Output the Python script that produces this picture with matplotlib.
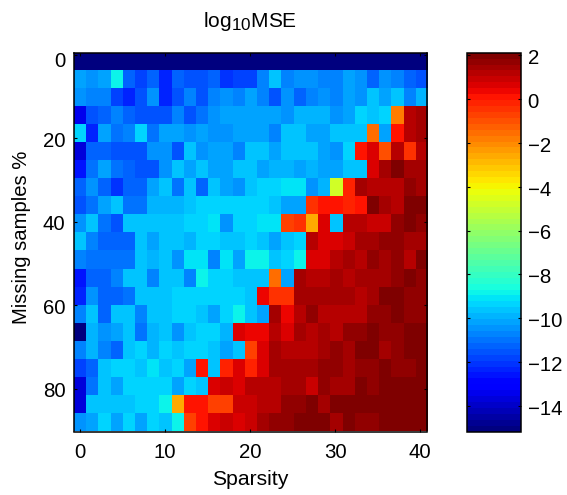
import numpy as np
import matplotlib
matplotlib.use('Agg')
import matplotlib.pyplot as plt
import matplotlib.transforms as mtrans
import matplotlib._mathtext as mt

plt.rcParams['font.family'] = ['Liberation Sans', 'DejaVu Sans']
plt.rcParams['mathtext.default'] = 'regular'
mt.SHRINK_FACTOR = 0.82  # bigger subscript, like the original

# log10 MSE, one row per missing samples level
r00 = [-15.1] * 29
r01 = [-10.15, -10.45, -10.15, -8.95, -11.15, -11.85, -11.15, -12.45, -11.15, -11.55, -11.55, -11.25, -12.15, -11.85, -11.85, -10.85, -9.75, -10.65, -10.35, -10.35, -10.65, -10.65, -10.05, -10.35, -11.15, -10.35, -10.65, -11.15, -11.55]
r02 = [-10.35, -10.85, -10.85, -11.85, -12.35, -11.55, -10.45, -12.35, -11.55, -10.65, -11.65, -10.85, -10.45, -10.65, -10.05, -10.85, -11.65, -10.45, -11.35, -10.85, -10.45, -10.85, -10.15, -10.45, -9.75, -10.15, -9.65, -10.65, -9.95]
r03 = [-13.3, -11.55, -11.35, -10.65, -11.15, -11.65, -11.65, -11.65, -10.85, -11.55, -11.05, -10.45, -10.05, -10.05, -10.25, -10.25, -10.05, -10.35, -9.85, -9.85, -9.85, -10.45, -10.15, -9.45, -9.75, -9.35, -1.8, 1.15, 1.45]
r04 = [-9.25, -12.45, -10.25, -10.95, -10.65, -9.35, -10.95, -10.05, -10.05, -10.35, -10.05, -10.35, -10.35, -10.05, -10.05, -10.05, -10.85, -9.75, -9.75, -10.05, -10.05, -9.55, -9.75, -9.75, -1.5, -10.15, 0.2, 1.15, 1.45]
r05 = [-13.6, -11.35, -11.35, -11.65, -11.55, -11.55, -10.45, -10.45, -11.65, -9.75, -10.35, -10.05, -10.05, -10.65, -9.75, -9.75, -10.05, -9.75, -9.75, -9.75, -10.05, -10.35, -9.25, 0.2, 0.7, -1.1, 1.25, -0.5, 1.25]
r06 = [-12.65, -10.95, -10.25, -10.95, -11.15, -11.65, -11.55, -10.45, -9.75, -10.05, -9.75, -10.05, -10.05, -9.75, -9.65, -10.15, -9.85, -9.85, -10.15, -9.85, -10.15, -10.15, -9.55, -9.75, 0.6, 1.45, 1.85, 1.55, 1.55]
r07 = [-11.15, -10.35, -11.15, -11.95, -11.35, -11.35, -10.15, -9.75, -10.95, -9.75, -11.15, -9.75, -10.05, -10.35, -9.75, -9.45, -9.45, -9.15, -9.15, -10.35, -9.85, -4.8, -0.1, 1.45, 1.15, 1.15, 1.25, 1.75, 1.55]
r08 = [-11.65, -10.95, -10.05, -9.65, -11.05, -11.05, -9.95, -9.95, -9.95, -9.65, -9.45, -9.45, -9.45, -9.45, -9.45, -9.45, -9.65, -10.05, -10.05, -0.5, 0.2, 0.2, -0.1, 0, 1.95, 1.45, 1.15, 1.85, 1.85]
r09 = [-10.45, -9.65, -10.95, -11.55, -9.55, -9.55, -9.55, -9.55, -9.55, -9.35, -9.35, -9.15, -10.35, -9.35, -9.35, -9.05, -9.05, -0.8, -0.4, -2.6, 0.7, -9.75, 1.15, 1.15, 0.95, 0.95, 1.65, 1.85, 1.65]
r10 = [-9.75, -10.65, -11.15, -11.15, -11.15, -9.75, -10.25, -9.75, -9.55, -9.85, -9.45, -9.45, -9.75, -9.75, -9.35, -9.65, -10.15, -9.75, -9.45, 1.15, 0.6, 0.6, 0.95, 1.45, 1.45, 1.65, 1.65, 1.55, 1.55]
r11 = [-10.65, -11.05, -11.05, -11.05, -11.05, -9.55, -9.95, -9.55, -10.35, -9.15, -9.15, -10.75, -9.15, -10.15, -8.85, -8.85, -9.55, -9.25, -8.85, 0.6, 0.6, 1.15, 1.45, 1.25, 1.75, 1.35, 1.65, 1.25, 2.05]
r12 = [-12.65, -11.15, -11.15, -10.85, -9.75, -9.75, -10.85, -9.55, -9.55, -10.85, -8.95, -9.25, -9.25, -9.65, -9.75, -9.75, -1.5, -10.15, 1.55, 1.15, 1.25, 1.45, 1.15, 1.35, 1.55, 1.55, 1.65, 1.95, 1.75]
r13 = [-12.45, -10.45, -11.15, -11.15, -10.95, -9.75, -9.75, -9.75, -9.35, -9.35, -9.35, -9.35, -9.35, -9.25, -9.75, 0.4, -0.4, -0.4, 1.35, 1.35, 1.35, 1.45, 1.45, 1.25, 1.45, 1.95, 1.95, 1.75, 1.75]
r14 = [-10.65, -9.65, -11.35, -9.75, -9.75, -10.85, -9.65, -9.65, -9.35, -9.35, -9.65, -10.15, -9.35, -8.85, -9.65, -10.15, 1.35, 0.4, 1.25, 1.75, 1.25, 1.25, 1.25, 1.25, 1.65, 1.65, 1.95, 1.75, 1.75]
r15 = [-15, -9.85, -10.45, -10.15, -9.75, -11.05, -9.95, -9.65, -10.45, -9.55, -9.25, -9.25, -9.85, 0.7, 0.4, 0.4, 1.05, 0.6, 1.45, 1.05, 1.45, 1.25, 1.75, 1.75, 2.05, 1.75, 1.75, 2.05, 2.05]
r16 = [-10.65, -9.95, -10.85, -11.15, -9.75, -9.25, -9.95, -9.25, -9.55, -9.25, -9.25, -9.75, -10.15, -9.75, -0.6, 0.6, 1.45, 1.15, 1.15, 1.25, 1.45, 1.75, 1.45, 2.05, 2.05, 1.45, 1.65, 2.05, 2.05]
r17 = [-11.85, -11.35, -9.75, -9.45, -9.45, -9.75, -9.15, -9.55, -9.25, -10.25, 0.2, -9.75, -0.2, 0.5, -0.3, 0.6, 1.35, 1.35, 1.35, 1.45, 1.65, 1.65, 1.55, 1.75, 1.75, 2.05, 1.65, 1.65, 2.05]
r18 = [-13.8, -10.95, -9.75, -10.25, -9.45, -9.45, -9.45, -9.35, -10.25, -9.25, -9.75, 0.6, 0.85, 0.5, 1.05, 1.05, 1.05, 1.55, 1.55, 0.95, 1.75, 1.55, 1.55, 2.05, 1.75, 2.05, 2.05, 2.05, 2.05]
r19 = [-13.7, -9.65, -9.65, -9.65, -9.65, -9.45, -9.45, -8.85, -2.6, 0.2, 0.2, -0.6, -0.6, 0.95, 0.85, 1.25, 1.15, 1.65, 1.65, 1.85, 1.45, 1.85, 1.85, 2.1, 2.1, 2.1, 2.1, 2.1, 2.1]
r20 = [-10.35, -10.05, -9.35, -10.05, -9.45, -10.05, -9.25, -9.75, -8.85, -0.7, 0.2, 0.5, 0.95, 0.7, 0.95, 1.45, 1.75, 1.75, 1.95, 1.95, 2.1, 1.55, 2.1, 1.75, 1.75, 2.05, 2.05, 2.05, 2.05]

log_mse = np.array([r00, r01, r02, r03, r04, r05, r06, r07, r08, r09, r10,
                    r11, r12, r13, r14, r15, r16, r17, r18, r19, r20])

x_ticks = [0, 10, 20, 30, 40]
y_ticks = [0, 20, 40, 60, 80]
cbar_ticks = [2, 0, -2, -4, -6, -8, -10, -12, -14]

W, H = 567, 495
fig = plt.figure(figsize=(W / 100, H / 100), dpi=100)

# axes in pixels from the picture
ax = fig.add_axes([73.7 / W, 1 - 431.5 / H, 353 / W, 378.2 / H])
cmap = plt.get_cmap('jet', 64)
im = ax.imshow(log_mse, cmap=cmap, vmin=-15.18, vmax=2.12, aspect='auto',
               interpolation='nearest', extent=[-0.72, 40.76, 90.3, -0.3])
ax.set_xticks(x_ticks)
ax.set_yticks(y_ticks)
ax.tick_params(direction='in', top=True, right=True, length=2.5, width=0.8,
               labelsize=14.7)
ax.tick_params(axis='x', pad=8.5)
ax.tick_params(axis='y', pad=6)
ax.set_xlabel('Sparsity', fontsize=15.2)
ax.xaxis.set_label_coords(0.5, -0.102)
ax.set_ylabel('Missing samples %', fontsize=14.6)
ax.yaxis.set_label_coords(-0.121, (431.5 - 237.5) / 378.2)
fig.text(250 / W, 1 - 26.7 / H, r'$log_{10}MSE$', fontsize=15, ha='center', va='baseline')
for sp in ax.spines.values():
    sp.set_linewidth(1.1)

# y labels sit a little under their ticks, the 0 most of all
for lab, tick in zip(ax.get_yticklabels(), y_ticks):
    drop = 5 if tick == 0 else 1.3
    lab.set_transform(lab.get_transform() + mtrans.ScaledTranslation(0, -drop / 100, fig.dpi_scale_trans))

cax = fig.add_axes([467.3 / W, 1 - 431.7 / H, 53.4 / W, 379 / H])
cb = fig.colorbar(im, cax=cax, ticks=cbar_ticks)
cb.ax.tick_params(direction='in', left=True, right=True, length=2.5, width=0.8,
                  labelsize=14.7, pad=5)
cb.outline.set_linewidth(1.1)
for lab in cb.ax.get_yticklabels():
    lab.set_transform(lab.get_transform() + mtrans.ScaledTranslation(0, -1.3 / 100, fig.dpi_scale_trans))

plt.savefig('out.png', dpi=100)
